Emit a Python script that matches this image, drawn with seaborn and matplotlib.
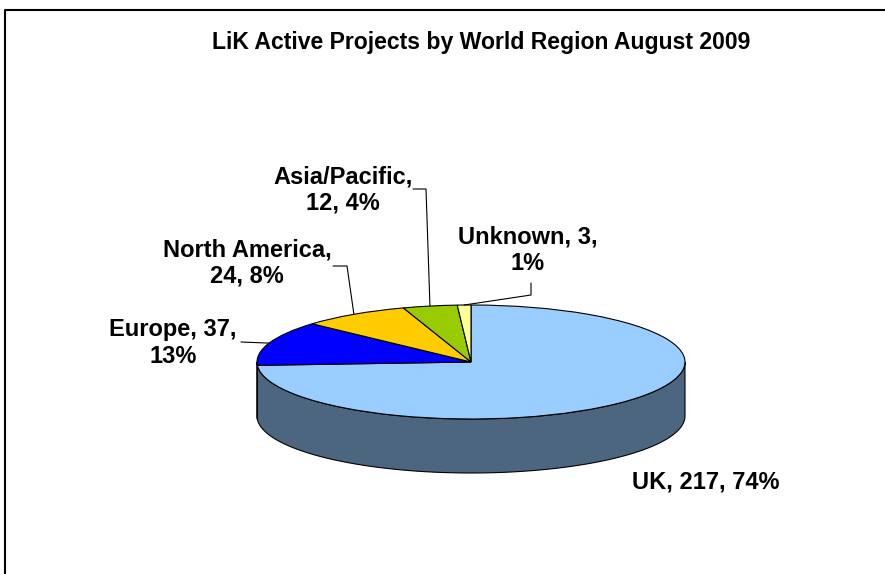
import numpy as np
import matplotlib
matplotlib.use("Agg")
import matplotlib.pyplot as plt
from matplotlib.transforms import Affine2D
from matplotlib.patches import Polygon
import seaborn as sns

# data
regions = ["UK", "Europe", "North America", "Asia/Pacific", "Unknown"]
projects = [217, 37, 24, 12, 3]
top_colors = ["#99CCFF", "#0000FF", "#FFCC00", "#99CC00", "#FFFF99"]
title = "LiK Active Projects by World Region August 2009"

sns.set_theme(style="white")
plt.rcParams["font.family"] = ["Liberation Sans", "DejaVu Sans"]
plt.rcParams["text.color"] = "black"

W, H = 885, 574
fig = plt.figure(figsize=(W / 100, H / 100), dpi=100)
ax = fig.add_axes([0, 0, 1, 1])

# pie geometry (pixel space, y up)
cx, cy = 471, H - 362
rx = 214
squash = 57 / 214
depth = 54

wedges, _ = ax.pie(projects, colors=top_colors, startangle=90, counterclock=False,
                   center=(cx, cy), radius=rx,
                   wedgeprops=dict(edgecolor="black", linewidth=0.8))
flat = Affine2D().translate(-cx, -cy).scale(1, squash).translate(cx, cy) + ax.transData


def ell(theta_deg, dy=0.0):
    t = np.radians(theta_deg)
    return cx + rx * np.cos(t), cy + rx * squash * np.sin(t) - dy


# front side of the disc, darker shade of each slice
for w, c in zip(wedges, top_colors):
    for k in (-360, 0, 360):
        a1 = max(w.theta1, 180 + k)
        a2 = min(w.theta2, 360 + k)
        if a2 <= a1:
            continue
        th = np.linspace(a1, a2, 120)
        top = [ell(t) for t in th]
        bot = [ell(t, depth) for t in th[::-1]]
        rgb = np.array(matplotlib.colors.to_rgb(c)) * 0.5
        ax.add_patch(Polygon(top + bot, closed=True, facecolor=rgb,
                             edgecolor="black", linewidth=0.8, zorder=1))

for w in wedges:
    w.set_transform(flat)
    w.set_zorder(2)

# labels
total = sum(projects)
pcts = [round(100 * v / total) for v in projects]
label_pos = [(706, 482), (173, 343), (247, 263), (343, 190), (528, 250)]
breaks = [3, 2, 1, 1, 2]
elbows = [None, [(241, 342)], [(347, 266), (333, 266)],
          [(426, 189), (413, 189)], [(531, 295), (531, 283)]]

for i, w in enumerate(wedges):
    parts = [regions[i] + ",", f"{projects[i]},", f"{pcts[i]}%"]
    if breaks[i] == 3:
        txt = " ".join(parts)
    else:
        txt = " ".join(parts[:breaks[i]]) + "\n" + " ".join(parts[breaks[i]:])
    tx, ty = label_pos[i]
    ax.text(tx, H - ty, txt, ha="center", va="center", fontsize=17,
            fontweight="bold", linespacing=1.2, color="black", zorder=5)
    if elbows[i]:
        mid = (w.theta1 + w.theta2) / 2
        pts = [ell(mid)] + [(x, H - y) for x, y in elbows[i]]
        xs, ys = zip(*pts)
        ax.plot(xs, ys, color="black", linewidth=0.8, zorder=4)

ax.text(481, H - 43, title, ha="center", va="center", fontsize=16.6,
        fontweight="bold", color="black")

# chart frame
ax.plot([5, 5, W + 5], [-5, H - 10, H - 10], color="black", linewidth=1.5, zorder=6)

ax.set_xlim(0, W)
ax.set_ylim(0, H)
ax.set_aspect("auto")
ax.axis("off")

fig.savefig("out.png", dpi=100)
